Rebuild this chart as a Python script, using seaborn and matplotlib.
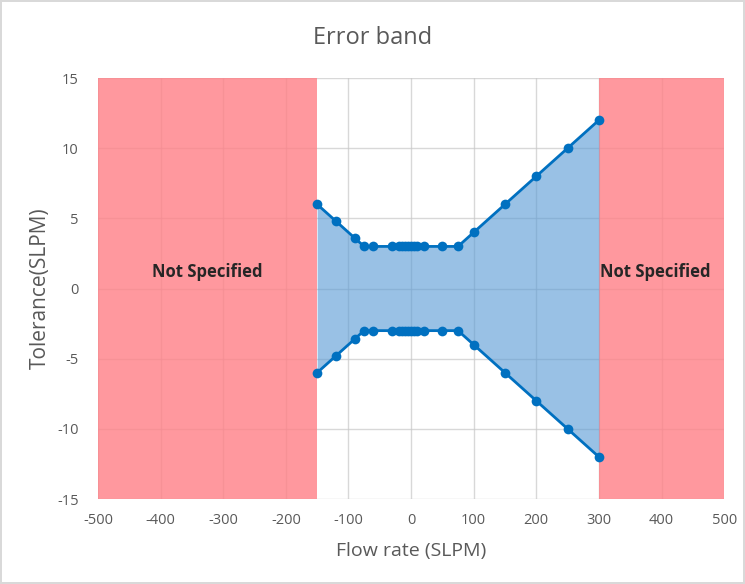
import matplotlib.pyplot as plt
import seaborn as sns
import pandas as pd

# dados
flow = [-150, -120, -90, -75, -60, -30, -20, -15, -10, -5, 0, 5, 10, 20, 50, 75, 100, 150, 200, 250, 300]
upper = [6, 4.8, 3.6, 3, 3, 3, 3, 3, 3, 3, 3, 3, 3, 3, 3, 3, 4, 6, 8, 10, 12]
lower = [-6, -4.8, -3.6, -3, -3, -3, -3, -3, -3, -3, -3, -3, -3, -3, -3, -3, -4, -6, -8, -10, -12]

not_spec_left = (-500, -150)
not_spec_right = (300, 500)
x_ticks = list(range(-500, 501, 100))
y_ticks = list(range(-15, 16, 5))

df = pd.DataFrame({"flow": flow, "upper": upper, "lower": lower})

sns.set_style("white")
plt.rcParams["font.family"] = ["Open Sans", "DejaVu Sans"]
plt.rcParams["axes.unicode_minus"] = False

gray = "#595959"

fig = plt.figure(figsize=(7.45, 5.84), dpi=100)
fig.patch.set_edgecolor("#d9d9d9")
fig.patch.set_linewidth(1.5)
ax = fig.add_axes([0.1315, 0.1455, 0.8405, 0.7209])

# regioes nao especificadas
ax.axvspan(*not_spec_left, color="#ff7f86", alpha=0.8, lw=0, zorder=1)
ax.axvspan(*not_spec_right, color="#ff7f86", alpha=0.8, lw=0, zorder=1)

# banda de erro
ax.fill_between(df["flow"], df["lower"], df["upper"], color="#5b9bd5", alpha=0.62, lw=0, zorder=2)

sns.lineplot(data=df, x="flow", y="upper", marker="o", color="#0070c0", lw=2,
             markersize=7, markeredgewidth=0, ax=ax, zorder=3)
sns.lineplot(data=df, x="flow", y="lower", marker="o", color="#0070c0", lw=2,
             markersize=7, markeredgewidth=0, ax=ax, zorder=3)

ax.text(-325, 1.2, "Not Specified", ha="center", va="center", fontsize=12, fontweight="bold", zorder=4)
ax.text(390, 1.2, "Not Specified", ha="center", va="center", fontsize=12, fontweight="bold", zorder=4)

ax.set_xlim(-500, 500)
ax.set_ylim(-15, 15)
ax.set_xticks(x_ticks)
ax.set_yticks(y_ticks)
ax.grid(True, color="#c8c8c8", lw=1, zorder=0)
for gl in ax.get_xgridlines() + ax.get_ygridlines():
    gl.set_zorder(1.5)
    gl.set_alpha(0.7)

for s in ax.spines.values():
    s.set_visible(False)
ax.tick_params(axis="both", length=0, labelsize=10.5, labelcolor=gray)
ax.tick_params(axis="x", pad=10)
ax.tick_params(axis="y", pad=14)

ax.set_xlabel("Flow rate (SLPM)", fontsize=14, color=gray, labelpad=10)
ax.set_ylabel("Tolerance(SLPM)", fontsize=15, color=gray, labelpad=4)
fig.suptitle("Error band", fontsize=17, color=gray, y=0.955)

fig.savefig("out.png", dpi=100, edgecolor=fig.get_edgecolor())
